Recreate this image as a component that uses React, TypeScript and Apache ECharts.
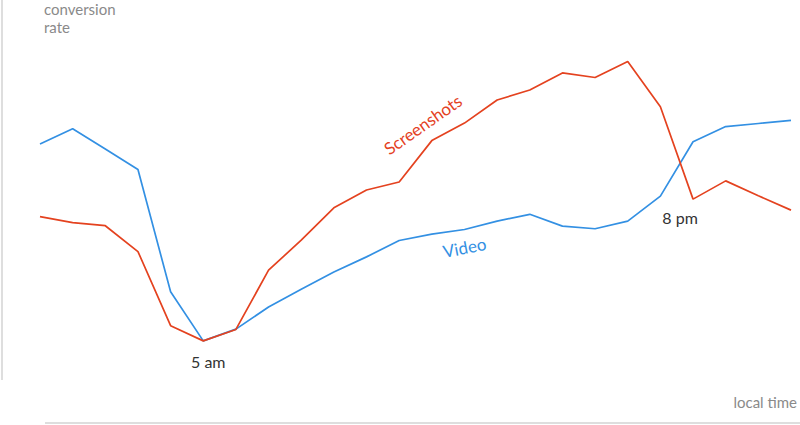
import React, { useEffect, useRef } from "react";
import * as echarts from "echarts";

const hours: string[] = [
  "0", "1", "2", "3", "4", "5", "6", "7", "8", "9", "10", "11",
  "12", "13", "14", "15", "16", "17", "18", "19", "20", "21", "22", "23",
];

const screenshots: number[] = [
  43.0, 41.4, 40.6, 33.8, 14.3, 10.3, 13.3, 28.9, 36.8, 45.3, 50.0, 52.1,
  63.0, 67.6, 73.7, 76.3, 80.8, 79.6, 83.8, 71.9, 47.6, 52.4, 48.5, 44.7,
];

const video: number[] = [
  62.1, 66.1, 60.8, 55.4, 23.2, 10.3, 13.4, 19.2, 23.9, 28.4, 32.4, 36.7,
  38.4, 39.6, 41.8, 43.6, 40.5, 39.8, 41.8, 48.4, 62.7, 66.7, 67.5, 68.3,
];

const annotations: { index: number; text: string }[] = [
  { index: 5, text: "5 am" },
  { index: 20, text: "8 pm" },
];

const RED = "#e4421f";
const BLUE = "#3390e3";
const FONT = "Lato, 'Open Sans', sans-serif";

export default function App() {
  const ref = useRef<HTMLDivElement>(null);

  useEffect(() => {
    if (!ref.current) return;
    const chart = echarts.init(ref.current, null, { renderer: "svg" });

    chart.setOption({
      animation: false,
      grid: { left: 40, right: 9, top: 0, bottom: 45 },
      xAxis: {
        type: "category",
        data: hours,
        boundaryGap: false,
        show: false,
      },
      yAxis: {
        type: "value",
        min: 0,
        max: 100,
        show: false,
      },
      series: [
        {
          name: "Video",
          type: "line",
          data: video,
          symbol: "none",
          lineStyle: { color: BLUE, width: 1.7 },
          itemStyle: { color: BLUE },
        },
        {
          name: "Screenshots",
          type: "line",
          data: screenshots,
          symbol: "none",
          lineStyle: { color: RED, width: 1.7 },
          itemStyle: { color: RED },
        },
      ],
    });

    const sp = chart.convertToPixel({ seriesIndex: 1 }, [12, screenshots[12]]) as number[];
    const vp = chart.convertToPixel({ seriesIndex: 0 }, [13, video[13]]) as number[];
    const annOffsets: Record<number, number[]> = { 5: [5, 21], 20: [-13, 18] };
    const annTexts = annotations.map((a) => {
      const p = chart.convertToPixel({ seriesIndex: 1 }, [a.index, screenshots[a.index]]) as number[];
      const o = annOffsets[a.index] || [0, 20];
      return {
        type: "text",
        x: p[0] + o[0],
        y: p[1] + o[1],
        style: {
          text: a.text,
          fill: "#333",
          font: `16px ${FONT}`,
          align: "center",
          verticalAlign: "middle",
        },
      };
    });

    chart.setOption({
      graphic: [
        {
          type: "line",
          shape: { x1: 2, y1: 0, x2: 2, y2: 380 },
          style: { stroke: "#dedede", lineWidth: 2 },
          silent: true,
        },
        {
          type: "line",
          shape: { x1: 45, y1: 423, x2: 800, y2: 423 },
          style: { stroke: "#dedede", lineWidth: 2 },
          silent: true,
        },
        {
          type: "text",
          x: 44,
          y: 0,
          style: {
            text: "conversion\nrate",
            fill: "#8a8a8a",
            font: `15px ${FONT}`,
            lineHeight: 18,
            align: "left",
            verticalAlign: "top",
          },
        },
        {
          type: "text",
          x: 797,
          y: 402,
          style: {
            text: "local time",
            fill: "#8a8a8a",
            font: `15px ${FONT}`,
            align: "right",
            verticalAlign: "middle",
          },
        },
        {
          type: "text",
          x: sp[0] - 9,
          y: sp[1] - 16,
          rotation: (35 * Math.PI) / 180,
          style: {
            text: "Screenshots",
            fill: RED,
            font: `17px ${FONT}`,
            align: "center",
            verticalAlign: "middle",
          },
        },
        {
          type: "text",
          x: vp[0],
          y: vp[1] + 18,
          rotation: (11 * Math.PI) / 180,
          style: {
            text: "Video",
            fill: BLUE,
            font: `17px ${FONT}`,
            align: "center",
            verticalAlign: "middle",
          },
        },
        ...annTexts,
      ],
    });

    return () => chart.dispose();
  }, []);

  return (
    <div
      ref={ref}
      style={{ position: "fixed", left: 0, top: 0, width: 800, height: 425, background: "#fff" }}
    />
  );
}
